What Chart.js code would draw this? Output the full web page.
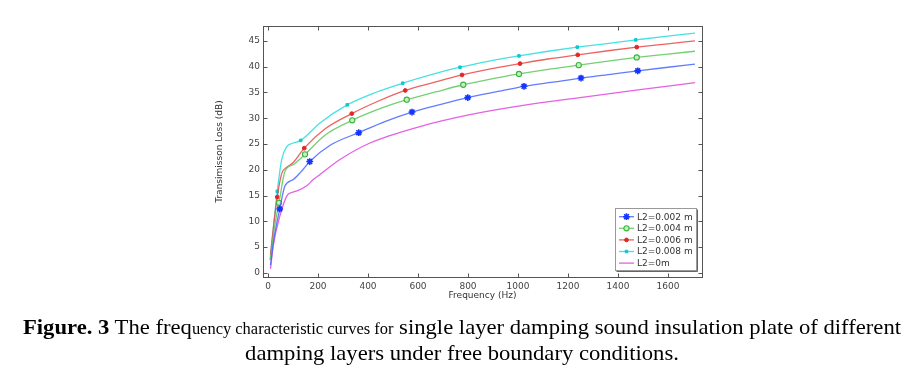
<!DOCTYPE html>
<html>
<head>
<meta charset="utf-8">
<script src="https://cdn.jsdelivr.net/npm/chart.js@4.4.0/dist/chart.umd.min.js"></script>
<style>
html, body { margin: 0; padding: 0; background: #fff; }
#wrap { position: relative; width: 924px; height: 370px; overflow: hidden; }
#c { position: absolute; left: 0; top: 0; }
#cap { position: absolute; left: 0; top: 315px; width: 924px; text-align: center;
       font-family: "Liberation Serif", "Times New Roman", serif; font-size: 22px; line-height: 24px;
       color: #000; white-space: nowrap; transform-origin: 462px 0; }
#cap .s { font-size: 16px; }
</style>
</head>
<body>
<div id="wrap">
  <canvas id="c" width="924" height="370"></canvas>
  <div id="cap">
    <div><span id="l1"><b>Figure. 3</b> The freq<span class="s">uency characteristic curves for</span> single layer damping sound insulation plate of different</span></div>
    <div>damping layers under free boundary conditions.</div>
  </div>
</div>
<script>
// axis ticks
var xTicks = [0, 200, 400, 600, 800, 1000, 1200, 1400, 1600];
var yTicks = [0, 5, 10, 15, 20, 25, 30, 35, 40, 45];

var labels = ['L2=0.002 m', 'L2=0.004 m', 'L2=0.006 m', 'L2=0.008 m', 'L2=0m'];

// L2 = 0.002 m
var f002 = [10, 25, 47, 68, 101, 130, 167, 250, 363, 470, 576, 700, 799, 920, 1024, 1140, 1252, 1370, 1479, 1600, 1708];
var tl002 = [1.5, 7, 12.4, 16.9, 18.1, 19.5, 21.6, 24.8, 27.2, 29.4, 31.2, 32.8, 34.0, 35.2, 36.2, 37.0, 37.8, 38.5, 39.2, 39.9, 40.5];
var mk002 = [2, 6, 8, 10, 12, 14, 16, 18];

// L2 = 0.004 m
var f004 = [10, 25, 44, 68, 101, 148, 230, 337, 445, 555, 670, 781, 890, 1004, 1120, 1243, 1360, 1475, 1590, 1708];
var tl004 = [2.5, 8.5, 13.6, 19.7, 21.0, 23.0, 26.8, 29.6, 31.8, 33.6, 35.1, 36.5, 37.6, 38.6, 39.5, 40.3, 41.1, 41.8, 42.4, 43.0];
var mk004 = [2, 5, 7, 9, 11, 13, 15, 17];

// L2 = 0.006 m
var f006 = [10, 22, 37, 55, 75, 101, 145, 230, 335, 440, 549, 660, 776, 890, 1008, 1120, 1239, 1360, 1475, 1590, 1708];
var tl006 = [3.5, 9, 14.7, 19.3, 20.5, 21.4, 24.2, 28.0, 30.9, 33.3, 35.4, 36.9, 38.4, 39.6, 40.6, 41.5, 42.3, 43.1, 43.8, 44.4, 45.0];
var mk006 = [2, 6, 8, 10, 12, 14, 16, 18];

// L2 = 0.008 m
var f008 = [8, 20, 37, 55, 75, 101, 131, 208, 317, 430, 539, 650, 768, 885, 1004, 1120, 1237, 1355, 1471, 1590, 1708];
var tl008 = [2.5, 8, 15.8, 22.0, 24.5, 25.2, 25.7, 29.1, 32.6, 35.0, 36.8, 38.4, 39.9, 41.1, 42.1, 43.0, 43.8, 44.5, 45.2, 45.9, 46.5];
var mk008 = [2, 6, 8, 10, 12, 14, 16, 18];

// L2 = 0 m
var f0 = [10, 21, 48, 75, 95, 115, 155, 181, 208, 288, 408, 608, 808, 1008, 1248, 1480, 1708];
var tl0 = [0.8, 5.3, 11.1, 14.9, 15.6, 15.9, 16.9, 18.1, 19.1, 22.0, 25.2, 28.4, 30.7, 32.4, 34.0, 35.5, 36.9];
var mk0 = [];

function pts(fs, vs) {
    return fs.map((f, i) => ({x: f, y: vs[i]}));
}

function series(label, fs, vs, marks, line, mark, style, r, fill, bw) {
    return {
        label: label,
        data: pts(fs, vs),
        borderColor: line,
        borderWidth: 1.3,
        cubicInterpolationMode: 'monotone',
        pointStyle: style,
        pointRadius: fs.map((_, i) => marks.includes(i) ? r : 0),
        pointHoverRadius: 0,
        pointBackgroundColor: fill,
        pointBorderColor: mark,
        pointBorderWidth: bw
    };
}

var datasets = [
    series(labels[0], f002, tl002, mk002, 'rgba(70,100,255,0.85)', '#1535ff', 'star', 3.4, '#1535ff', 1.6),
    series(labels[1], f004, tl004, mk004, 'rgba(90,200,90,0.85)', '#3cb43c', 'circle', 2.6, '#c4f0c4', 1.1),
    series(labels[2], f006, tl006, mk006, 'rgba(235,70,70,0.85)', '#e02828', 'circle', 1.9, '#e02828', 1),
    series(labels[3], f008, tl008, mk008, 'rgba(40,220,220,0.85)', '#10c8d0', 'rect', 1.8, '#10c8d0', 1),
    series(labels[4], f0, tl0, mk0, 'rgba(225,80,225,0.9)', '#e050e0', 'circle', 0, '#e050e0', 1)
];

var frame = {
    id: 'frame',
    afterDraw(chart) {
        const ctx = chart.ctx, a = chart.chartArea, sx = chart.scales.x, sy = chart.scales.y;
        const L = Math.round(a.left) + 0.5, T = Math.round(a.top) + 0.5;
        const R = Math.round(a.right) + 0.5, B = Math.round(a.bottom) + 0.5;
        ctx.save();
        ctx.strokeStyle = '#555';
        ctx.lineWidth = 1;
        ctx.strokeRect(L, T, R - L, B - T);
        ctx.beginPath();
        sx.ticks.forEach(t => {
            const px = Math.round(sx.getPixelForValue(t.value)) + 0.5;
            ctx.moveTo(px, B); ctx.lineTo(px, B - 4);
            ctx.moveTo(px, T); ctx.lineTo(px, T + 4);
        });
        sy.ticks.forEach(t => {
            const py = Math.round(sy.getPixelForValue(t.value)) + 0.5;
            ctx.moveTo(L, py); ctx.lineTo(L + 4, py);
            ctx.moveTo(R, py); ctx.lineTo(R - 4, py);
        });
        ctx.stroke();

        // legend box inside the plot, lower right
        const bx = 615.5, by = 208.5, bw = 81, bh = 62;
        ctx.fillStyle = '#fff';
        ctx.fillRect(bx, by, bw, bh);
        ctx.strokeStyle = '#999';
        ctx.strokeRect(bx, by, bw, bh);
        ctx.strokeStyle = '#666';
        ctx.beginPath();
        ctx.moveTo(bx + bw + 1, by + 1); ctx.lineTo(bx + bw + 1, by + bh + 1); ctx.lineTo(bx + 1, by + bh + 1);
        ctx.stroke();
        ctx.font = '9px "DejaVu Sans"';
        ctx.textBaseline = 'middle';
        ctx.textAlign = 'left';
        chart.data.datasets.forEach((ds, i) => {
            const ry = 216.7 + i * 11.6;
            ctx.strokeStyle = ds.borderColor;
            ctx.lineWidth = 1.3;
            ctx.beginPath();
            ctx.moveTo(619, ry); ctx.lineTo(634, ry);
            ctx.stroke();
            const r = Math.max.apply(null, ds.pointRadius);
            if (r > 0) {
                ctx.fillStyle = ds.pointBackgroundColor;
                ctx.strokeStyle = ds.pointBorderColor;
                ctx.lineWidth = ds.pointBorderWidth;
                Chart.helpers.drawPoint(ctx, {pointStyle: ds.pointStyle, radius: r, rotation: 0, borderWidth: ds.pointBorderWidth}, 626.5, ry);
            }
            ctx.fillStyle = '#333';
            ctx.fillText(ds.label, 637, ry + 0.5);
        });
        ctx.restore();
    }
};

var tickFont = {family: 'DejaVu Sans', size: 9};

new Chart(document.getElementById('c'), {
    type: 'line',
    data: {datasets: datasets},
    options: {
        responsive: false,
        animation: false,
        devicePixelRatio: 1,
        layout: {padding: {left: 213, top: 26, right: 222, bottom: 66}},
        plugins: {legend: {display: false}, tooltip: {enabled: false}},
        scales: {
            x: {
                type: 'linear',
                min: -20,
                max: 1736,
                afterBuildTicks: s => { s.ticks = xTicks.map(v => ({value: v})); },
                afterFit: s => { s.height = 27; },
                grid: {display: false, drawTicks: false},
                border: {display: false},
                ticks: {color: '#444', font: tickFont, padding: 4, maxRotation: 0, callback: v => String(v)},
                title: {display: true, text: 'Frequency (Hz)', color: '#333', font: tickFont, padding: {top: 0, bottom: 3}}
            },
            y: {
                type: 'linear',
                min: -0.8,
                max: 47.9,
                afterBuildTicks: s => { s.ticks = yTicks.map(v => ({value: v})); },
                afterFit: s => { s.width = 50; },
                grid: {display: false, drawTicks: false},
                border: {display: false},
                ticks: {color: '#444', font: tickFont, padding: 3, callback: v => String(v)},
                title: {display: true, text: 'Transimisson Loss (dB)', color: '#333', font: tickFont, padding: {top: 1.5, bottom: 0}}
            }
        }
    },
    plugins: [frame]
});

// squeeze the caption horizontally like the source figure
var l1 = document.getElementById('l1');
var k = 878 / l1.getBoundingClientRect().width;
document.getElementById('cap').style.transform = 'scaleX(' + k.toFixed(3) + ')';
</script>
</body>
</html>
